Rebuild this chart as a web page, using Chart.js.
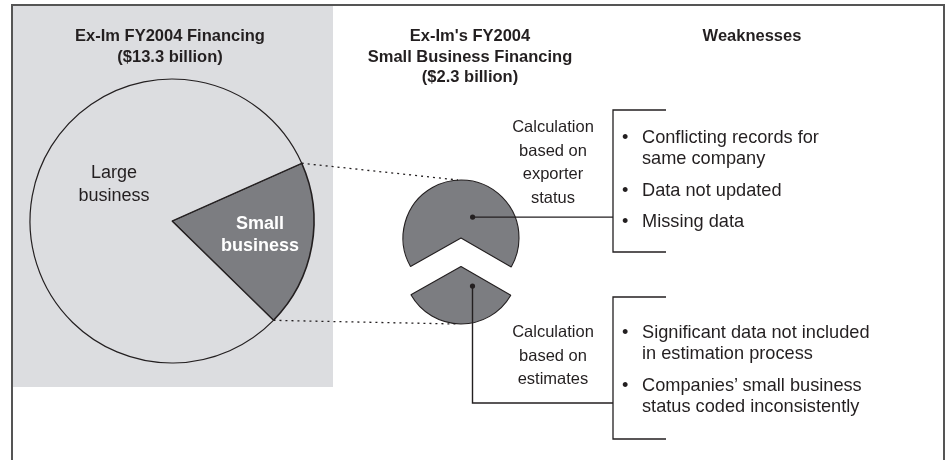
<!DOCTYPE html>
<html>
<head>
<meta charset="utf-8">
<script src="https://cdn.jsdelivr.net/npm/chart.js@4.4.1/dist/chart.umd.min.js"></script>
<style>
  body { margin: 0; width: 948px; height: 460px; overflow: hidden; background: #fff;
         font-family: "Liberation Sans", Arial, sans-serif; color: #231f20; }
  #frame { position: absolute; left: 11px; top: 4px; width: 930px; height: 480px;
           border: 2px solid #555; border-bottom: none; }
  #panel { position: absolute; left: 13px; top: 6px; width: 320px; height: 381px; background: #dcdde0; }
  canvas { position: absolute; left: 0; top: 0; }
  .t { position: absolute; text-align: center; white-space: nowrap; }
  .b { font-weight: bold; font-size: 16.5px; line-height: 20.5px; }
  .lbl { font-size: 18px; line-height: 23px; }
  .calc { font-size: 16.5px; line-height: 23.5px; }
  .list { position: absolute; left: 620px; font-size: 18.2px; line-height: 21px; white-space: nowrap; }
  .list div { position: relative; padding-left: 22px; margin-bottom: 10.5px; }
  .list div::before { content: "\2022"; position: absolute; left: 2px; }
</style>
</head>
<body>
<div id="frame"></div>
<div id="panel"></div>
<canvas id="big" width="948" height="460"></canvas>
<canvas id="smallUp" width="948" height="460"></canvas>
<canvas id="smallLow" width="948" height="460"></canvas>

<div class="t b" style="left:70px;width:200px;top:25px">Ex-Im FY2004 Financing<br>($13.3 billion)</div>
<div class="t b" style="left:330px;width:280px;top:25px">Ex-Im's FY2004<br>Small Business Financing<br>($2.3 billion)</div>
<div class="t b" style="left:652px;width:200px;top:25px">Weaknesses</div>

<div class="t lbl" style="left:44px;width:140px;top:161px">Large<br>business</div>
<div class="t lbl" style="left:190px;width:140px;top:212px;color:#fff;font-weight:bold;line-height:22px">Small<br>business</div>

<div class="t calc" style="left:483px;width:140px;top:115px">Calculation<br>based on<br>exporter<br>status</div>
<div class="t calc" style="left:483px;width:140px;top:320px">Calculation<br>based on<br>estimates</div>

<div class="list" style="top:127px">
  <div>Conflicting records for<br>same company</div>
  <div>Data not updated</div>
  <div>Missing data</div>
</div>
<div class="list" style="top:322px">
  <div>Significant data not included<br>in estimation process</div>
  <div>Companies’ small business<br>status coded inconsistently</div>
</div>

<script>
// share of Ex-Im FY2004 financing, percent (as drawn)
const bigLabels = ['Small business', 'Large business'];
const bigShares = [19, 81];

// split of the $2.3 billion small business financing, $ billions (as drawn)
const smallLabels = ['Calculation based on estimates', 'Calculation based on exporter status'];
const smallShares = [0.77, 1.53];

const ink = '#231f20';
const darkGray = '#7c7d81';
const lightGray = '#dcdde0';

const noChrome = { legend: { display: false }, tooltip: { enabled: false } };

const bigChart = new Chart(document.getElementById('big'), {
  type: 'pie',
  data: {
    labels: bigLabels,
    datasets: [{
      data: bigShares,
      backgroundColor: [darkGray, lightGray],
      borderColor: ink,
      borderWidth: [1.6, 1.2]
    }]
  },
  options: {
    responsive: false,
    animation: false,
    rotation: 66,
    radius: 142,
    layout: { padding: { left: 0, right: 604, top: 0, bottom: 18 } },
    plugins: noChrome
  }
});

// the exporter-status piece
const upChart = new Chart(document.getElementById('smallUp'), {
  type: 'pie',
  data: {
    labels: smallLabels,
    datasets: [{
      data: smallShares,
      backgroundColor: ['rgba(0,0,0,0)', darkGray],
      borderColor: ink,
      borderWidth: [0, 1.1]
    }]
  },
  options: {
    responsive: false,
    animation: false,
    rotation: 120,
    radius: 58,
    layout: { padding: { left: 0, right: 26, top: 16, bottom: 0 } },
    plugins: noChrome
  }
});

// lines linking the pies to the weakness lists
const connectors = {
  id: 'connectors',
  afterDraw(chart) {
    const ctx = chart.ctx;
    const big = bigChart.getDatasetMeta(0).data[0];
    const up = upChart.getDatasetMeta(0).data[1];
    const low = chart.getDatasetMeta(0).data[0];
    const r = up.outerRadius, rl = low.outerRadius;

    ctx.save();
    ctx.strokeStyle = ink;
    ctx.fillStyle = ink;

    // dotted links from the big pie slice
    ctx.lineWidth = 1.3;
    ctx.setLineDash([2, 4]);
    ctx.beginPath();
    ctx.moveTo(big.x + big.outerRadius * Math.cos(big.startAngle), big.y + big.outerRadius * Math.sin(big.startAngle));
    ctx.lineTo(up.x - 3, up.y - r);
    ctx.moveTo(big.x + big.outerRadius * Math.cos(big.endAngle), big.y + big.outerRadius * Math.sin(big.endAngle));
    ctx.lineTo(low.x - 4, low.y + rl);
    ctx.stroke();
    ctx.setLineDash([]);

    // leaders
    const d1 = [up.x + 0.2 * r, up.y - 0.36 * r];
    const d2 = [low.x + 0.2 * rl, low.y + 0.34 * rl];
    ctx.lineWidth = 1.4;
    ctx.beginPath();
    ctx.moveTo(d1[0], d1[1]);
    ctx.lineTo(613, d1[1]);
    ctx.moveTo(d2[0], d2[1]);
    ctx.lineTo(d2[0], 403);
    ctx.lineTo(613, 403);
    ctx.stroke();
    [d1, d2].forEach(p => {
      ctx.beginPath();
      ctx.arc(p[0], p[1], 2.6, 0, Math.PI * 2);
      ctx.fill();
    });

    // brackets
    ctx.lineWidth = 1.3;
    [[110, 252], [297, 439]].forEach(([y0, y1]) => {
      ctx.beginPath();
      ctx.moveTo(666, y0);
      ctx.lineTo(613, y0);
      ctx.lineTo(613, y1);
      ctx.lineTo(666, y1);
      ctx.stroke();
    });
    ctx.restore();
  }
};

// the estimates piece, pulled out below
new Chart(document.getElementById('smallLow'), {
  type: 'pie',
  data: {
    labels: smallLabels,
    datasets: [{
      data: smallShares,
      backgroundColor: [darkGray, 'rgba(0,0,0,0)'],
      borderColor: ink,
      borderWidth: [1.1, 0]
    }]
  },
  options: {
    responsive: false,
    animation: false,
    rotation: 120,
    radius: 57.5,
    layout: { padding: { left: 0, right: 26, top: 73, bottom: 0 } },
    plugins: noChrome
  },
  plugins: [connectors]
});
</script>
</body>
</html>
